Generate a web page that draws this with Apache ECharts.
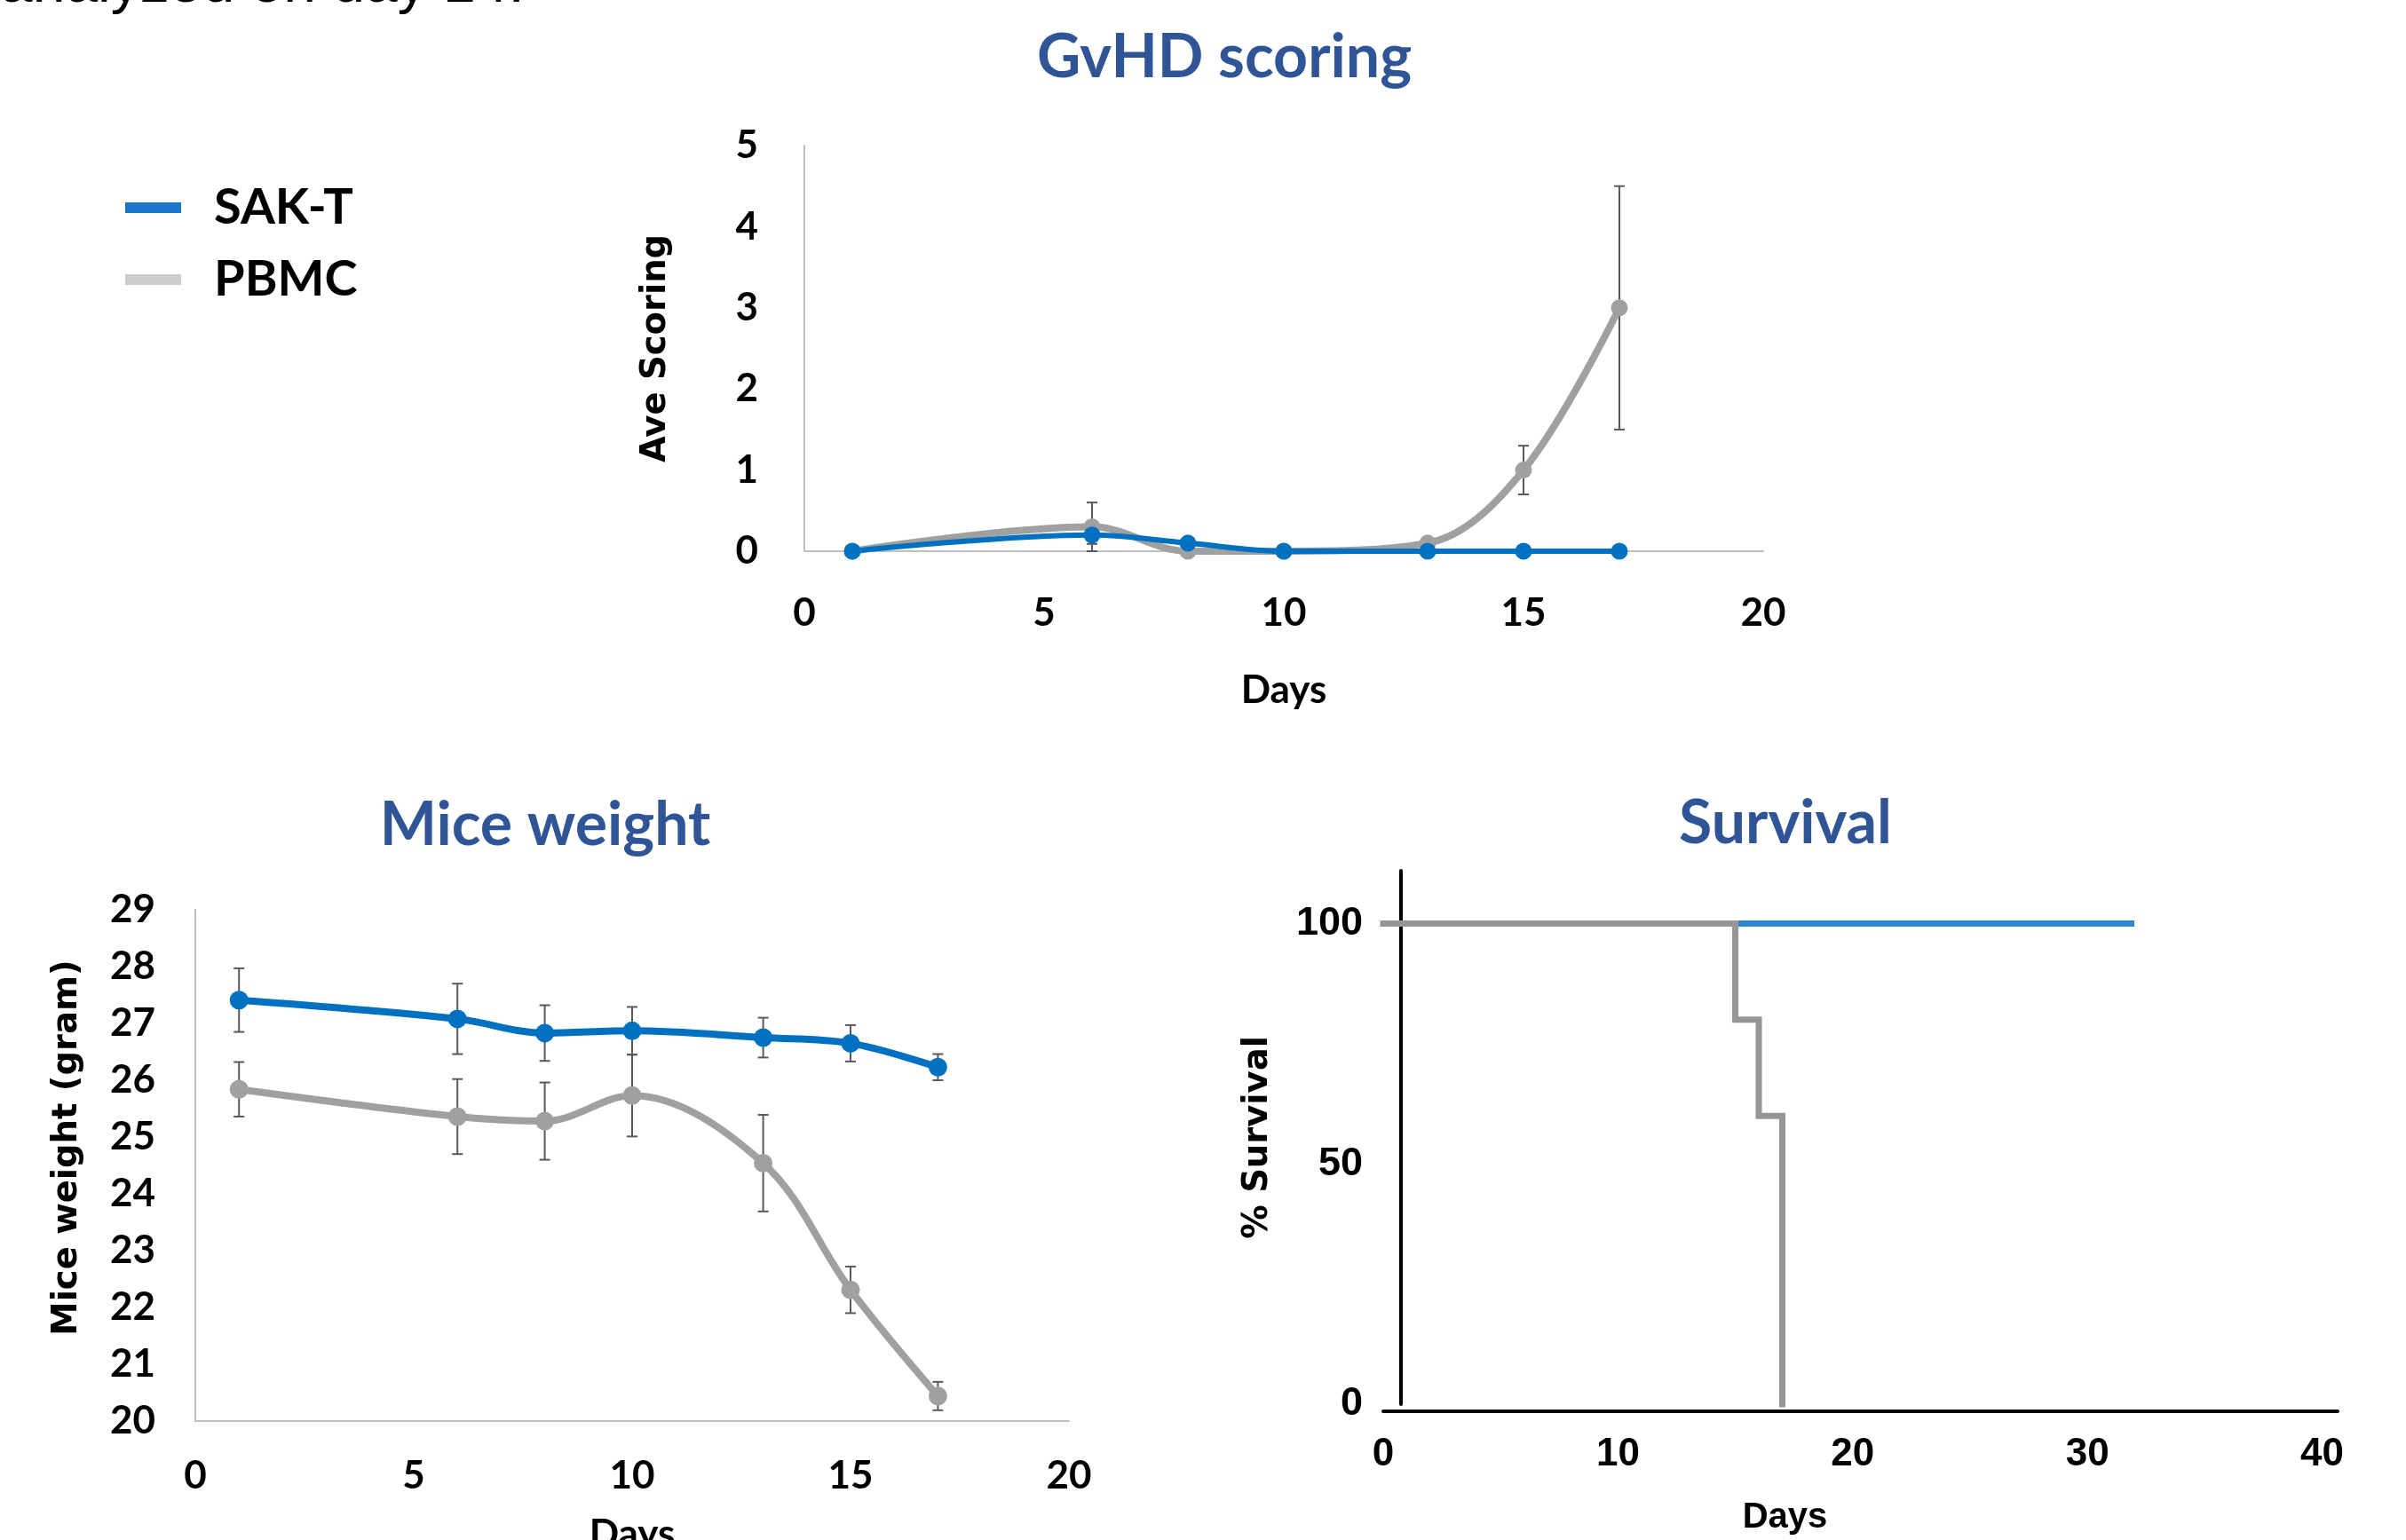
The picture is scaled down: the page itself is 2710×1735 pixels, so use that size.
<!DOCTYPE html>
<html>
<head>
<meta charset="utf-8">
<script src="https://cdn.jsdelivr.net/npm/echarts@6/dist/echarts.min.js"></script>
<style>
  html, body { margin: 0; padding: 0; background: #fff; }
  #myChart { width: 2710px; height: 1735px; }
</style>
</head>
<body>
<div id="myChart"></div>
<script>
// days of measurement
const days = [1, 6, 8, 10, 13, 15, 17];
// GvHD scoring
const scoreSakt = [0, 0.2, 0.1, 0, 0, 0, 0];
const scoreSaktErr = [0, 0.11, 0, 0, 0, 0, 0];
const scorePbmc = [0, 0.3, 0, 0, 0.1, 1, 3];
const scorePbmcErr = [0, 0.3, 0, 0, 0, 0.3, 1.5];
// mice weight (gram)
const weightSakt = [27.41, 27.08, 26.83, 26.87, 26.75, 26.65, 26.23];
const weightSaktErr = [0.56, 0.62, 0.49, 0.42, 0.35, 0.32, 0.23];
const weightPbmc = [25.84, 25.36, 25.28, 25.73, 24.54, 22.31, 20.44];
const weightPbmcErr = [0.48, 0.66, 0.68, 0.72, 0.85, 0.41, 0.25];
// survival (%)
const survDaysSakt = [0, 32];
const survSakt = [100, 100];
const survDaysPbmc = [0, 15, 16, 17];
const survPbmc = [100, 80, 60, 0];
// tick labels
const scoreTicks = [0, 1, 2, 3, 4, 5];
const weightTicks = [20, 21, 22, 23, 24, 25, 26, 27, 28, 29];
const survXTicks = [0, 10, 20, 30, 40];
const survYTicks = [0, 50, 100];

const BLUE = '#0070C0';
const GRAY = '#A0A0A0';
const TITLE = '#2F5597';
const CAL = 'Lato';
const VER = 'DejaVu Sans';
const ARI = 'Liberation Sans';

function pairs(xs, ys) {
  return xs.map((x, i) => [x, ys[i]]);
}
function errRows(vals, errs) {
  let rows = [];
  for (let i = 0; i < days.length; i++) {
    if (errs[i] > 0) rows.push([days[i], vals[i] - errs[i], vals[i] + errs[i]]);
  }
  return rows;
}
function renderErr(params, api) {
  const lo = api.coord([api.value(0), api.value(1)]);
  const hi = api.coord([api.value(0), api.value(2)]);
  const w = 6;
  const style = { stroke: '#595959', lineWidth: 2 };
  return {
    type: 'group',
    children: [
      { type: 'line', shape: { x1: lo[0], y1: lo[1], x2: hi[0], y2: hi[1] }, style },
      { type: 'line', shape: { x1: lo[0] - w, y1: lo[1], x2: lo[0] + w, y2: lo[1] }, style },
      { type: 'line', shape: { x1: hi[0] - w, y1: hi[1], x2: hi[0] + w, y2: hi[1] }, style }
    ]
  };
}
function errSeries(name, idx, vals, errs) {
  return {
    name: name, type: 'custom', xAxisIndex: idx, yAxisIndex: idx,
    renderItem: renderErr, encode: { x: 0, y: [1, 2] },
    data: errRows(vals, errs), z: 1, silent: true
  };
}
function lineSeries(name, idx, data, color, width, size) {
  return {
    name: name, type: 'line', xAxisIndex: idx, yAxisIndex: idx,
    data: data, smooth: 0.35, symbol: 'circle', symbolSize: size,
    itemStyle: { color: color }, lineStyle: { color: color, width: width },
    z: 2, silent: true
  };
}
const labelCal = { color: '#000', fontFamily: CAL, fontWeight: 'bold', fontSize: 44 };
const nameVer = { color: '#000', fontFamily: VER, fontWeight: 'bold', fontSize: 38.5 };
const nameCal = { color: '#000', fontFamily: CAL, fontWeight: 'bold', fontSize: 44 };

let option = {
  backgroundColor: '#fff',
  animation: false,
  legend: {
    orient: 'vertical', left: 136, top: 199, icon: 'rect',
    itemWidth: 63, itemHeight: 12, itemGap: 21,
    textStyle: { color: '#000', fontFamily: CAL, fontWeight: 'bold', fontSize: 56, lineHeight: 60, padding: [0, 0, 0, 32] },
    data: [
      { name: 'SAK-T', itemStyle: { color: '#1A75C6' } },
      { name: 'PBMC', itemStyle: { color: '#CCCCCC' } }
    ]
  },
  graphic: [
    { type: 'text', x: 0, y: 17, style: { text: 'analyzed on day 14.', font: '66px "Liberation Sans"', fill: '#000', verticalAlign: 'bottom' } },
    { type: 'text', x: 1379, y: 65, style: { text: 'GvHD scoring', font: 'bold 68px Lato', fill: TITLE, align: 'center', verticalAlign: 'middle' } },
    { type: 'text', x: 614, y: 930, style: { text: 'Mice weight', font: 'bold 68px Lato', fill: TITLE, align: 'center', verticalAlign: 'middle' } },
    { type: 'text', x: 2011, y: 928, style: { text: 'Survival', font: 'bold 68px Lato', fill: TITLE, align: 'center', verticalAlign: 'middle' } }
  ],
  grid: [
    { left: 906, top: 164, width: 1080, height: 457, containLabel: false, outerBoundsMode: 'none' },
    { left: 220, top: 1025, width: 984, height: 576, containLabel: false, outerBoundsMode: 'none' },
    { left: 1558, top: 981, width: 1075, height: 601, containLabel: false, outerBoundsMode: 'none' }
  ],
  xAxis: [
    {
      gridIndex: 0, type: 'value', min: 0, max: 20, interval: 5,
      name: 'Days', nameLocation: 'middle', nameGap: 135, nameTextStyle: nameCal,
      axisLine: { show: true, onZero: false, lineStyle: { color: '#BFBFBF', width: 2 } },
      axisTick: { show: false }, splitLine: { show: false },
      axisLabel: Object.assign({ margin: 48 }, labelCal)
    },
    {
      gridIndex: 1, type: 'value', min: 0, max: 20, interval: 5,
      name: 'Days', nameLocation: 'middle', nameGap: 106, nameTextStyle: nameCal,
      axisLine: { show: true, onZero: false, lineStyle: { color: '#BFBFBF', width: 2 } },
      axisTick: { show: false }, splitLine: { show: false },
      axisLabel: Object.assign({ margin: 40 }, labelCal)
    },
    {
      gridIndex: 2, type: 'value', min: 0, max: 40.66, offset: 8,
      name: 'Days', nameLocation: 'middle', nameGap: 100,
      nameTextStyle: { color: '#000', fontFamily: ARI, fontWeight: 'bold', fontSize: 40, padding: [0, 170, 0, 0] },
      axisLine: { show: true, onZero: false, lineStyle: { color: '#000', width: 4 } },
      axisTick: { show: false }, splitLine: { show: false },
      axisLabel: { customValues: survXTicks, margin: 27, color: '#000', fontFamily: ARI, fontWeight: 'bold', fontSize: 44 }
    }
  ],
  yAxis: [
    {
      gridIndex: 0, type: 'value', min: 0, max: 5, interval: 1,
      name: 'Ave Scoring', nameLocation: 'middle', nameGap: 148, nameTextStyle: nameVer,
      axisLine: { show: true, onZero: false, lineStyle: { color: '#BFBFBF', width: 2 } },
      axisTick: { show: false }, splitLine: { show: false },
      axisLabel: Object.assign({ margin: 52, customValues: scoreTicks }, labelCal)
    },
    {
      gridIndex: 1, type: 'value', min: 20, max: 29, interval: 1,
      name: 'Mice weight (gram)', nameLocation: 'middle', nameGap: 125,
      nameTextStyle: Object.assign({ padding: [0, 0, 0, 40] }, nameVer),
      axisLine: { show: true, onZero: false, lineStyle: { color: '#BFBFBF', width: 2 } },
      axisTick: { show: false }, splitLine: { show: false },
      axisLabel: Object.assign({ margin: 45, customValues: weightTicks }, labelCal)
    },
    {
      gridIndex: 2, type: 'value', min: 0, max: 111, offset: -20,
      name: '% Survival', nameLocation: 'middle', nameGap: 142, nameTextStyle: nameVer,
      axisLine: { show: true, onZero: false, lineStyle: { color: '#000', width: 4 } },
      axisTick: { show: false }, splitLine: { show: false },
      axisLabel: { customValues: survYTicks, margin: 43, color: '#000', fontFamily: ARI, fontWeight: 'bold', fontSize: 45 }
    }
  ],
  series: [
    // GvHD scoring
    errSeries('PBMC err', 0, scorePbmc, scorePbmcErr),
    errSeries('SAK-T err', 0, scoreSakt, scoreSaktErr),
    lineSeries('PBMC', 0, pairs(days, scorePbmc), GRAY, 8, 19),
    lineSeries('SAK-T', 0, pairs(days, scoreSakt), BLUE, 6, 19),
    // mice weight
    errSeries('PBMC err', 1, weightPbmc, weightPbmcErr),
    errSeries('SAK-T err', 1, weightSakt, weightSaktErr),
    lineSeries('PBMC', 1, pairs(days, weightPbmc), GRAY, 8, 21),
    lineSeries('SAK-T', 1, pairs(days, weightSakt), BLUE, 8, 21),
    // survival
    {
      name: 'SAK-T', type: 'line', xAxisIndex: 2, yAxisIndex: 2,
      data: pairs(survDaysSakt, survSakt), step: 'end', showSymbol: false, clip: false,
      itemStyle: { color: '#2E86D0' }, lineStyle: { color: '#2E86D0', width: 7 }, silent: true
    },
    {
      name: 'PBMC', type: 'line', xAxisIndex: 2, yAxisIndex: 2,
      data: pairs(survDaysPbmc, survPbmc), step: 'end', showSymbol: false, clip: false,
      itemStyle: { color: '#969696' }, lineStyle: { color: '#969696', width: 7, cap: 'square', join: 'miter' }, silent: true
    }
  ]
};

let myChart = echarts.init(document.getElementById('myChart'));
myChart.setOption(option);
</script>
</body>
</html>
